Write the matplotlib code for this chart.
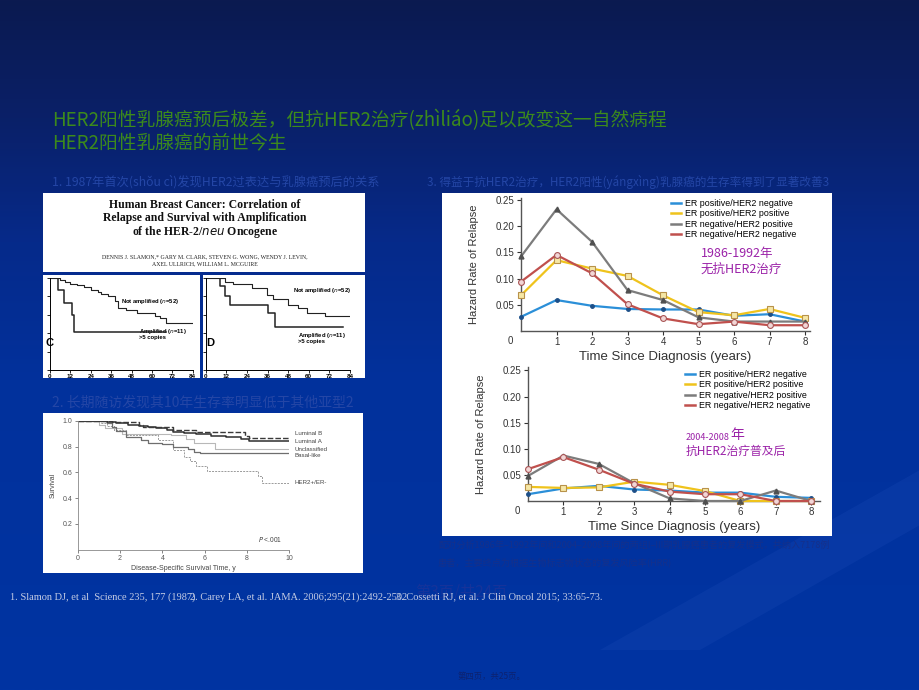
import numpy as np
import matplotlib.pyplot as plt
from matplotlib.colors import LinearSegmentedColormap
from matplotlib.patches import Polygon
from matplotlib.lines import Line2D

plt.rcParams['font.family'] = ['Noto Sans CJK SC', 'DejaVu Sans']

W, H = 920, 690

# ---------------- data ----------------
years = [0, 1, 2, 3, 4, 5, 6, 7, 8]
legend_labels = ['ER positive/HER2 negative', 'ER positive/HER2 positive',
                 'ER negative/HER2 positive', 'ER negative/HER2 negative']

# hazard rate of relapse, 1986-1992 cohort
hr86_erpos_her2neg = [0.027, 0.059, 0.048, 0.042, 0.041, 0.041, 0.029, 0.032, 0.018]
hr86_erpos_her2pos = [0.068, 0.135, 0.119, 0.105, 0.068, 0.036, 0.030, 0.042, 0.025]
hr86_erneg_her2pos = [0.142, 0.232, 0.170, 0.078, 0.059, 0.026, 0.018, 0.018, 0.018]
hr86_erneg_her2neg = [0.094, 0.145, 0.110, 0.051, 0.024, 0.013, 0.018, 0.011, 0.011]

# hazard rate of relapse, 2004-2008 cohort
hr04_erpos_her2neg = [0.013, 0.024, 0.029, 0.022, 0.020, 0.016, 0.016, 0.008, 0.006]
hr04_erpos_her2pos = [0.027, 0.025, 0.026, 0.037, 0.031, 0.019, 0.0, 0.0, 0.0]
hr04_erneg_her2pos = [0.048, 0.087, 0.071, 0.034, 0.005, 0.0, 0.0, 0.020, 0.0]
hr04_erneg_her2neg = [0.061, 0.084, 0.060, 0.033, 0.018, 0.013, 0.013, 0.0, 0.0]

# Slamon 1987 Kaplan-Meier (months, survival fraction)
c_not_t = [0, 6, 9, 12, 16, 20, 24, 28, 30, 34, 38, 40, 45, 51, 62, 65, 68, 84]
c_not_s = [1.0, 0.98, 0.96, 0.94, 0.92, 0.90, 0.87, 0.85, 0.83, 0.80, 0.75, 0.67, 0.65, 0.62, 0.59, 0.56, 0.51, 0.51]
c_amp_t = [0, 5, 8, 12.7, 14, 68]
c_amp_s = [1.0, 0.87, 0.73, 0.60, 0.41, 0.41]
d_not_t = [0, 11, 16, 27, 35.5, 39.4, 48, 54, 58.8, 69.5, 84]
d_not_s = [1.0, 0.96, 0.93, 0.89, 0.82, 0.77, 0.71, 0.67, 0.62, 0.59, 0.59]
d_amp_t = [0, 8.3, 11.3, 14.2, 36.5, 40.3, 80]
d_amp_s = [1.0, 0.91, 0.80, 0.71, 0.62, 0.47, 0.47]
month_ticks = [0, 12, 24, 36, 48, 60, 72, 84]

# Carey 2006 disease-specific survival (years, survival)
lumb_t = [0, 1.6, 2.9, 3.1, 4.5, 5.6, 7.9, 8.1, 10]
lumb_s = [1.0, 0.99, 0.97, 0.95, 0.93, 0.91, 0.88, 0.865, 0.865]
luma_t = [0, 1.4, 1.8, 2.4, 2.9, 3.3, 3.7, 4.2, 4.5, 5.0, 5.6, 6.3, 7.0, 7.7, 8.1, 10]
luma_s = [1.0, 0.99, 0.98, 0.97, 0.96, 0.95, 0.94, 0.925, 0.915, 0.905, 0.895, 0.885, 0.875, 0.86, 0.845, 0.845]
uncl_t = [0, 1.0, 1.3, 2.1, 4.4, 5.1, 5.5, 6.5, 10]
uncl_s = [1.0, 0.97, 0.94, 0.90, 0.89, 0.86, 0.83, 0.78, 0.78]
basal_t = [0, 1.4, 1.6, 1.8, 2.3, 3.0, 3.3, 4.0, 4.5, 5.2, 5.5, 5.8, 10]
basal_s = [1.0, 0.98, 0.95, 0.92, 0.87, 0.85, 0.83, 0.82, 0.80, 0.78, 0.76, 0.75, 0.75]
her2_t = [0, 1.1, 1.4, 1.7, 2.3, 3.8, 4.5, 5.0, 5.3, 5.6, 6.1, 8.5, 8.7, 10]
her2_s = [1.0, 0.98, 0.96, 0.93, 0.89, 0.85, 0.77, 0.72, 0.69, 0.65, 0.61, 0.57, 0.52, 0.52]
subtype_names = ['Luminal B', 'Luminal A', 'Unclassified', 'Basal-like', 'HER2+/ER-']


def box(x0, y0, x1, y1):
    # pixel rectangle -> figure fraction
    return [x0 / W, 1 - y1 / H, (x1 - x0) / W, (y1 - y0) / H]


def panel(x0, y0, x1, y1):
    a = fig.add_axes(box(x0, y0, x1, y1))
    a.set_facecolor('white')
    a.set_xlim(x0, x1)
    a.set_ylim(y1, y0)
    a.set_xticks([]); a.set_yticks([])
    for s in a.spines.values():
        s.set_visible(False)
    return a


fig = plt.figure(figsize=(9.2, 6.9), dpi=100)

# ---------- slide background ----------
bg = fig.add_axes([0, 0, 1, 1])
bg_cmap = LinearSegmentedColormap.from_list(
    'slide', [(0, '#0b1a50'), (0.17, '#0a2068'), (0.35, '#062a8a'), (0.55, '#02319c'), (1, '#0034a2')])
bg.imshow(np.linspace(0, 1, 256).reshape(-1, 1), cmap=bg_cmap, aspect='auto', extent=[0, W, H, 0])
bg.add_patch(Polygon([(600, 650), (920, 470), (920, 525), (700, 650)], closed=True,
                     color='#2050bb', alpha=0.22, lw=0))
bg.set_xlim(0, W); bg.set_ylim(H, 0)
bg.axis('off')

green = '#3c8a1c'
bg.text(52, 120, 'HER2阳性乳腺癌预后极差，但抗HER2治疗(zhìliáo)足以改变这一自然病程',
        color=green, fontsize=13.5, va='center')
bg.text(52, 143, 'HER2阳性乳腺癌的前世今生', color=green, fontsize=13.5, va='center')

dim = '#2446a6'
bg.text(52, 182, '1. 1987年首次(shǒu cì)发现HER2过表达与乳腺癌预后的关系', color=dim, fontsize=8.8, va='center')
bg.text(427, 182, '3. 得益于抗HER2治疗，HER2阳性(yángxìng)乳腺癌的生存率得到了显著改善3',
        color=dim, fontsize=8.4, va='center')
bg.text(52, 403, '2. 长期随访发现其10年生存率明显低于其他亚型2', color=dim, fontsize=10, va='center')

note = '#15308a'
bg.text(438, 545, '配对分析1986年–1992年间和2004–2008年间的两组I–III期乳腺癌患者的复发模式，共纳入7178例',
        color=note, fontsize=6.6, va='center')
bg.text(438, 562, '患者，主要终点为根据生物标志物状态的复发风险率(HRR)', color=note, fontsize=6.6, va='center')

ref = '#c4cce4'
bg.text(415, 592, '第3页/共24页', color='#16339a', fontsize=11, va='center')
bg.text(10, 597, '1. Slamon DJ, et al  Science 235, 177 (1987)', color=ref, fontsize=7.5,
        family='Liberation Serif', va='center')
bg.text(190, 597, '2. Carey LA, et al. JAMA. 2006;295(21):2492-2502', color=ref, fontsize=7.5,
        family='Liberation Serif', va='center')
bg.text(396, 597, '3. Cossetti RJ, et al. J Clin Oncol 2015; 33:65-73.', color=ref, fontsize=7.5,
        family='Liberation Serif', va='center')
bg.text(458, 676, '第四页，共25页。', color='#0d2270', fontsize=6, va='center')

# ---------- Slamon 1987 paper clip ----------
tp = panel(43, 193, 365, 272)
serif = 'Liberation Serif'
for yy, line in zip([205, 218.5, 232], ['Human Breast Cancer: Correlation of',
                                        'Relapse and Survival with Amplification',
                                        'of the HER-2/$\\mathit{neu}$ Oncogene']):
    tp.text(205, yy, line, ha='center', va='center', fontsize=8.5, fontweight='bold',
            family=serif, color='#111111')
tp.text(205, 256.5, 'DENNIS J. SLAMON,* GARY M. CLARK, STEVEN G. WONG, WENDY J. LEVIN,',
        ha='center', va='center', fontsize=4.2, family=serif, color='#222222')
tp.text(205, 264, 'AXEL ULLRICH, WILLIAM L. MCGUIRE',
        ha='center', va='center', fontsize=4.2, family=serif, color='#222222')

km_specs = [
    ((43, 275, 200, 378), (50, 278, 192.7, 370), c_not_t, c_not_s, c_amp_t, c_amp_s, 'C',
     (121, 302), (139, 331)),
    ((203, 275, 365, 378), (205.7, 278, 350, 370), d_not_t, d_not_s, d_amp_t, d_amp_s, 'D',
     (293, 290), (298, 335)),
]
for outer, inner, nt, ns, at, as_, letter, lab1, lab2 in km_specs:
    p = panel(*outer)
    p.text(outer[0] + 3, 343, letter, fontsize=8, fontweight='bold', family='Liberation Sans', va='center')
    p.text(*lab1, 'Not amplified ($\\it{n}$=52)', fontsize=4.2, fontweight='bold',
           family='Liberation Sans', va='center')
    p.text(*lab2, 'Amplified ($\\it{n}$=11)', fontsize=4.2, fontweight='bold',
           family='Liberation Sans', va='center')
    p.text(lab2[0], lab2[1] + 7, '>5 copies', fontsize=4.2, fontweight='bold',
           family='Liberation Sans', va='center')
    k = fig.add_axes(box(*inner))
    k.set_facecolor('none')
    k.step(nt, ns, where='post', color='#222222', lw=0.8)
    k.step(at, as_, where='post', color='#222222', lw=1.1)
    k.set_xlim(0, 84); k.set_ylim(0, 1.0)
    k.set_xticks(month_ticks)
    k.set_yticks([0, 0.2, 0.4, 0.6, 0.8, 1.0])
    k.set_yticklabels([])
    k.tick_params(labelsize=4.5, length=2, width=0.6, pad=1)
    for lbl in k.get_xticklabels():
        lbl.set_fontweight('bold'); lbl.set_family('Liberation Sans')
    k.spines[['top', 'right']].set_visible(False)
    k.spines[['left', 'bottom']].set_linewidth(0.7)

# ---------- Carey 2006 survival by subtype ----------
panel(43, 413, 363, 573)
sv = fig.add_axes(box(77.7, 420.7, 289.3, 549.7))
sv.set_facecolor('none')
sv.step(her2_t, her2_s, where='post', color='#9a9a9a', lw=0.7, ls=(0, (2, 1.2)))
sv.step(uncl_t, uncl_s, where='post', color='#b8b8b8', lw=0.8)
sv.step(basal_t, basal_s, where='post', color='#6e6e6e', lw=0.9)
sv.step(luma_t, luma_s, where='post', color='#2e2e2e', lw=1.1)
sv.step(lumb_t, lumb_s, where='post', color='#3a3a3a', lw=1.0, ls=(0, (4, 1.5)))
sv.set_xlim(0, 10); sv.set_ylim(0, 1.0)
sv.set_xticks([0, 2, 4, 6, 8, 10])
sv.set_yticks([0.2, 0.4, 0.6, 0.8, 1.0])
sv.set_yticklabels(['0.2', '0.4', '0.6', '0.8', '1.0'])
sv.tick_params(labelsize=5, length=2, width=0.5, pad=2, colors='#555555')
for lbl in sv.get_xticklabels() + sv.get_yticklabels():
    lbl.set_family('Liberation Sans')
sv.spines[['top', 'right']].set_visible(False)
sv.spines[['left', 'bottom']].set_color('#888888')
sv.spines[['left', 'bottom']].set_linewidth(0.6)
sv.set_xlabel('Disease-Specific Survival Time, y', fontsize=5, family='Liberation Sans',
              color='#444444', labelpad=2)
sv.set_ylabel('Survival', fontsize=5, family='Liberation Sans', color='#444444', labelpad=4)
for name, yv in zip(subtype_names, [0.897, 0.838, 0.776, 0.732, 0.52]):
    sv.text(10.25, yv, name, fontsize=4.4, family='Liberation Sans', color='#444444',
            va='center', clip_on=False)
sv.text(8.5, 0.06, '$\\it{P}$ <.001', fontsize=4.8, family='Liberation Sans', color='#444444')

# ---------- hazard rate charts ----------
panel(442, 193, 832, 536)
line_styles = [
    dict(color='#2b8fd8', marker='o', ms=2.5, mfc='#1d4f88', mec='#1d4f88'),
    dict(color='#efc31c', marker='s', ms=4.2, mfc='#f6e7a6', mec='#b8924a', mew=0.8),
    dict(color='#7c7c7c', marker='^', ms=3.5, mfc='#505050', mec='#505050'),
    dict(color='#c0504d', marker='o', ms=4.2, mfc='#f2d6d6', mec='#a85555', mew=0.8),
]
draw_order = [2, 3, 1, 0]


def hazard_chart(rect, xmax, ymax, series, leg_xy):
    ax = fig.add_axes(box(*rect))
    ax.set_facecolor('none')
    for i in draw_order:
        ax.plot(years, series[i], lw=1.6, clip_on=False, zorder=3 + i, **line_styles[i])
    ax.set_xlim(0, xmax); ax.set_ylim(0, ymax)
    ax.set_xticks(years[1:])
    ax.set_yticks([0.05, 0.10, 0.15, 0.20, 0.25])
    ax.set_yticklabels(['0.05', '0.10', '0.15', '0.20', '0.25'])
    ax.tick_params(labelsize=7, length=3, width=0.8, pad=1.5, colors='#333333')
    for lbl in ax.get_xticklabels() + ax.get_yticklabels():
        lbl.set_family('Liberation Sans')
    ax.annotate('0', xy=(0, 0), xytext=(-8, -7), textcoords='offset points', ha='center',
                va='center', fontsize=7, family='Liberation Sans', color='#333333')
    ax.spines[['top', 'right']].set_visible(False)
    ax.spines[['left', 'bottom']].set_color('#555555')
    ax.spines[['left', 'bottom']].set_linewidth(1.0)
    ax.set_xlabel('Time Since Diagnosis (years)', fontsize=9.5, family='Liberation Sans',
                  color='#333333', labelpad=3)
    ax.set_ylabel('Hazard Rate of Relapse', fontsize=8, family='Liberation Sans', color='#333333')
    ax.yaxis.set_label_coords(-0.145, 0.5)
    handles = [Line2D([], [], color=line_styles[i]['color'], lw=1.8) for i in range(4)]
    ax.legend(handles, legend_labels, loc='upper left', bbox_to_anchor=(leg_xy[0] / W, 1 - leg_xy[1] / H),
              bbox_transform=fig.transFigure, frameon=False, borderpad=0, borderaxespad=0,
              handlelength=1.1, handletextpad=0.5, labelspacing=0.15,
              prop={'family': 'Liberation Sans', 'size': 6.4})
    return ax


top = hazard_chart((521, 198, 810, 331), 8.14, 0.2535,
                   [hr86_erpos_her2neg, hr86_erpos_her2pos, hr86_erneg_her2pos, hr86_erneg_her2neg],
                   (671, 199))
bot = hazard_chart((528, 367, 820, 501), 8.25, 0.2565,
                   [hr04_erpos_her2neg, hr04_erpos_her2pos, hr04_erneg_her2pos, hr04_erneg_her2neg],
                   (685, 370))

purple = '#9b22a8'
fig.text(701 / W, 1 - 253 / H, '1986-1992年', color=purple, fontsize=9, va='center')
fig.text(701 / W, 1 - 269 / H, '无抗HER2治疗', color=purple, fontsize=9, va='center')
fig.text(686 / W, 1 - 437 / H, '2004-2008', color=purple, fontsize=6.5, va='center')
fig.text(730 / W, 1 - 435 / H, '年', color=purple, fontsize=10, va='center')
fig.text(686 / W, 1 - 451 / H, '抗HER2治疗普及后', color=purple, fontsize=8.5, va='center')

fig.savefig('out.png', dpi=100)
